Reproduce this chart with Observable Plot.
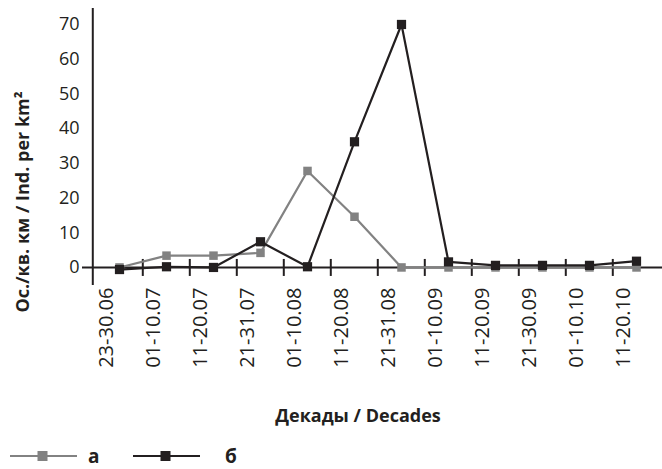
<!DOCTYPE html>
<html>
<head>
<meta charset="utf-8">
<script src="https://cdn.jsdelivr.net/npm/d3@7"></script>
<script src="https://cdn.jsdelivr.net/npm/@observablehq/plot@0.6"></script>
<style>
  html, body { margin: 0; padding: 0; background: #fff; }
  body { width: 662px; height: 469px; overflow: hidden; font-family: "Open Sans", sans-serif; }
  #legend { position: relative; height: 36px; }
  .lg { position: absolute; top: 13px; height: 20px; display: flex; align-items: center; font-weight: 700; font-size: 19px; color: #231f20; }
  .lg svg { display: block; }
  .lg span { display: block; line-height: 20px; }
</style>
</head>
<body>
<div id="chart"></div>
<div id="legend"></div>
<script>
const categories = ["23-30.06","01-10.07","11-20.07","21-31.07","01-10.08","11-20.08","21-31.08","01-10.09","11-20.09","21-30.09","01-10.10","11-20.10"];
const seriesA = [0, 3.4, 3.4, 4.2, 27.8, 14.6, 0, 0, 0, 0, 0, 0];
const seriesB = [-0.6, 0.2, 0, 7.4, 0.2, 36.2, 70, 1.6, 0.6, 0.6, 0.6, 1.8];
const yTicks = [0, 10, 20, 30, 40, 50, 60, 70];
const seriesNames = ["а", "б"];
const colors = ["#828282", "#231f20"];
const yTitle = "Ос./кв. км / Ind. per km²";
const xTitle = "Декады / Decades";

const W = 662, H = 433, mL = 93, mR = 0, mT = 8, mB = H - 285;
const step = (W - mL - mR) / categories.length;

const dataA = categories.map((c, i) => ({c, v: seriesA[i]}));
const dataB = categories.map((c, i) => ({c, v: seriesB[i]}));

const font = "Open Sans";
const ink = "#231f20";

const chart = Plot.plot({
  width: W, height: H,
  marginLeft: mL, marginRight: mR, marginTop: mT, marginBottom: mB,
  style: {fontFamily: font, background: "#fff", color: ink},
  x: {type: "point", domain: categories, padding: 0.5, axis: null},
  y: {domain: [-5.2, 74.6], axis: null},
  marks: [
    // y axis line
    Plot.ruleX([categories[0]], {dx: -step / 2 - 3, y1: -5.2, y2: 74.6, stroke: ink, strokeWidth: 2}),
    // x axis line at zero
    Plot.ruleY([0], {stroke: ink, strokeWidth: 2, insetLeft: -11}),
    // cross ticks at category boundaries
    Plot.ruleX(categories.slice(1), {dx: -step / 2, y1: 0, y2: 0, insetTop: -8, insetBottom: -9, stroke: ink, strokeWidth: 2}),
    Plot.axisY({ticks: yTicks, tickSize: 0, tickPadding: 14, fontSize: 18, label: null, fill: ink}),
    Plot.axisX({tickSize: 0, tickRotate: -90, tickPadding: 2, fontSize: 20, label: null, dx: -13, fill: ink}),
    Plot.lineY(dataA, {x: "c", y: "v", stroke: colors[0], strokeWidth: 2.2}),
    Plot.dot(dataA, {x: "c", y: "v", symbol: "square", r: 4.8, fill: colors[0]}),
    Plot.lineY(dataB, {x: "c", y: "v", stroke: colors[1], strokeWidth: 2.2}),
    Plot.dot(dataB, {x: "c", y: "v", symbol: "square", r: 5.2, fill: colors[1]}),
    Plot.text([yTitle], {frameAnchor: "left", textAnchor: "middle", rotate: -90, dx: -70, dy: 55, fontSize: 18, fontWeight: 700, fill: ink}),
    Plot.text([xTitle], {frameAnchor: "bottom", textAnchor: "middle", dx: -20, dy: 136, fontSize: 18, fontWeight: 700, fill: ink})
  ]
});
document.getElementById("chart").appendChild(chart);

// legend
const legend = document.getElementById("legend");
const lgPos = [10, 133];
seriesNames.forEach((name, i) => {
  const item = document.createElement("div");
  item.className = "lg";
  item.style.left = lgPos[i] + "px";
  const svg = d3.create("svg").attr("width", 68).attr("height", 20);
  svg.append("line").attr("x1", 0).attr("x2", 67).attr("y1", 10).attr("y2", 10).attr("stroke", colors[i]).attr("stroke-width", 2.2);
  svg.append("rect").attr("x", 27.5).attr("y", 5).attr("width", 10).attr("height", 10).attr("fill", colors[i]);
  item.appendChild(svg.node());
  const t = document.createElement("span");
  t.textContent = name;
  t.style.marginLeft = (i === 0 ? 10 : 24) + "px";
  item.appendChild(t);
  legend.appendChild(item);
});
</script>
</body>
</html>
